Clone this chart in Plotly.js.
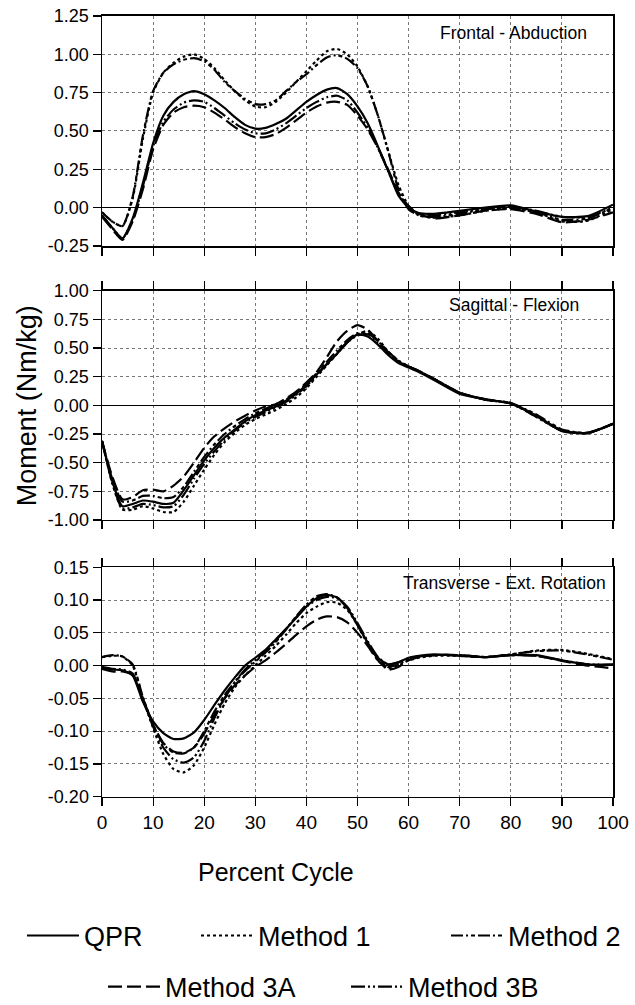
<!DOCTYPE html>
<html><head><meta charset="utf-8">
<script src="https://cdn.plot.ly/plotly-3.0.1.min.js"></script>
<style>html,body{margin:0;padding:0;background:#fff}</style>
</head><body>
<div id="chart" style="width:635px;height:1005px"></div>
<script>
// ---------- data ----------
const percentCycle = [0,2,4,6,8,10,12,14,16,18,20,22,24,26,28,30,32,34,36,38,40,42,44,46,48,50,52,54,56,58,60,62,65,70,75,80,85,90,95,100];
const seriesNames = ['QPR','Method 1','Method 2','Method 3A','Method 3B'];
const panelNames = ['Frontal - Abduction','Sagittal - Flexion','Transverse - Ext. Rotation'];

// Frontal - Abduction
const frontalQPR = [-0.05,-0.13,-0.20,-0.07,0.16,0.42,0.60,0.69,0.74,0.76,0.74,0.70,0.65,0.59,0.54,0.515,0.52,0.545,0.58,0.635,0.69,0.735,0.77,0.78,0.74,0.66,0.55,0.40,0.24,0.08,0.00,-0.035,-0.04,-0.02,0.00,0.015,-0.025,-0.06,-0.055,0.02];
const frontalM1  = [-0.03,-0.09,-0.12,0.06,0.45,0.75,0.88,0.945,0.985,1.00,0.97,0.91,0.83,0.76,0.70,0.66,0.655,0.69,0.75,0.82,0.89,0.96,1.02,1.035,1.00,0.92,0.79,0.60,0.37,0.15,0.01,-0.05,-0.065,-0.05,-0.02,-0.005,-0.03,-0.09,-0.085,-0.01];
const frontalM2  = [-0.03,-0.09,-0.12,0.07,0.47,0.76,0.88,0.935,0.965,0.975,0.955,0.90,0.82,0.76,0.71,0.675,0.675,0.70,0.76,0.82,0.87,0.93,0.98,0.995,0.97,0.91,0.79,0.60,0.37,0.12,-0.01,-0.05,-0.06,-0.04,-0.01,0.00,-0.03,-0.08,-0.07,0.00];
const frontalM3A = [-0.06,-0.14,-0.21,-0.09,0.12,0.38,0.54,0.62,0.655,0.665,0.655,0.62,0.575,0.525,0.485,0.46,0.46,0.48,0.52,0.57,0.62,0.66,0.685,0.69,0.67,0.60,0.51,0.39,0.25,0.10,0.01,-0.04,-0.07,-0.05,-0.02,-0.01,-0.04,-0.095,-0.08,-0.03];
const frontalM3B = [-0.05,-0.13,-0.20,-0.08,0.14,0.40,0.56,0.64,0.685,0.70,0.69,0.65,0.60,0.55,0.51,0.485,0.485,0.51,0.55,0.60,0.65,0.69,0.72,0.73,0.70,0.62,0.52,0.39,0.24,0.09,0.00,-0.04,-0.05,-0.03,-0.01,0.005,-0.02,-0.06,-0.06,0.00];

// Sagittal - Flexion
const sagittalQPR = [-0.31,-0.66,-0.88,-0.86,-0.83,-0.84,-0.86,-0.85,-0.74,-0.61,-0.48,-0.37,-0.28,-0.21,-0.14,-0.085,-0.045,-0.01,0.04,0.10,0.18,0.27,0.36,0.45,0.55,0.62,0.60,0.53,0.44,0.37,0.33,0.29,0.22,0.10,0.055,0.015,-0.09,-0.225,-0.24,-0.16];
const sagittalM1  = [-0.31,-0.68,-0.91,-0.91,-0.88,-0.90,-0.93,-0.93,-0.84,-0.70,-0.56,-0.43,-0.32,-0.24,-0.17,-0.12,-0.08,-0.04,0.01,0.07,0.15,0.25,0.35,0.45,0.55,0.62,0.65,0.58,0.47,0.39,0.34,0.30,0.23,0.11,0.05,0.02,-0.10,-0.22,-0.24,-0.16];
const sagittalM2  = [-0.31,-0.64,-0.84,-0.83,-0.79,-0.79,-0.81,-0.80,-0.71,-0.58,-0.45,-0.34,-0.25,-0.18,-0.12,-0.07,-0.03,0.01,0.05,0.11,0.19,0.28,0.38,0.48,0.57,0.63,0.63,0.56,0.47,0.39,0.34,0.30,0.23,0.11,0.05,0.02,-0.08,-0.21,-0.24,-0.16];
const sagittalM3A = [-0.31,-0.62,-0.82,-0.80,-0.74,-0.735,-0.75,-0.70,-0.62,-0.50,-0.37,-0.27,-0.20,-0.14,-0.09,-0.045,-0.01,0.01,0.06,0.12,0.20,0.29,0.42,0.56,0.65,0.70,0.66,0.56,0.46,0.38,0.34,0.30,0.23,0.11,0.05,0.02,-0.09,-0.22,-0.24,-0.16];
const sagittalM3B = [-0.31,-0.67,-0.90,-0.89,-0.86,-0.87,-0.89,-0.88,-0.78,-0.64,-0.51,-0.40,-0.30,-0.22,-0.15,-0.10,-0.06,-0.02,0.03,0.09,0.17,0.26,0.36,0.46,0.55,0.61,0.62,0.55,0.46,0.38,0.34,0.30,0.23,0.11,0.05,0.015,-0.10,-0.22,-0.245,-0.16];

// Transverse - Ext. Rotation
const transverseQPR = [-0.003,-0.006,-0.007,-0.015,-0.055,-0.085,-0.103,-0.112,-0.111,-0.102,-0.083,-0.06,-0.038,-0.018,0.000,0.012,0.024,0.04,0.056,0.073,0.09,0.103,0.108,0.104,0.088,0.062,0.035,0.012,0.002,0.005,0.012,0.015,0.017,0.015,0.013,0.016,0.016,0.008,0.002,0.002];
const transverseM1  = [0.013,0.015,0.014,0.000,-0.05,-0.095,-0.135,-0.158,-0.163,-0.152,-0.125,-0.09,-0.058,-0.033,-0.015,0.000,0.015,0.03,0.047,0.065,0.08,0.09,0.097,0.096,0.085,0.062,0.033,0.008,-0.004,0.000,0.008,0.012,0.015,0.015,0.013,0.017,0.023,0.024,0.018,0.010];
const transverseM2  = [0.013,0.016,0.014,0.002,-0.048,-0.09,-0.12,-0.133,-0.134,-0.125,-0.10,-0.07,-0.045,-0.025,-0.008,0.006,0.02,0.036,0.055,0.075,0.093,0.106,0.109,0.104,0.088,0.062,0.034,0.01,-0.002,0.002,0.01,0.014,0.016,0.016,0.013,0.017,0.022,0.023,0.017,0.009];
const transverseM3A = [-0.005,-0.009,-0.009,-0.015,-0.05,-0.09,-0.118,-0.131,-0.133,-0.125,-0.104,-0.075,-0.05,-0.03,-0.015,-0.002,0.008,0.02,0.033,0.047,0.06,0.07,0.075,0.074,0.066,0.05,0.03,0.008,-0.006,-0.002,0.008,0.013,0.016,0.016,0.013,0.016,0.015,0.007,0.000,-0.004];
const transverseM3B = [-0.002,-0.005,-0.006,-0.012,-0.052,-0.093,-0.125,-0.143,-0.148,-0.14,-0.115,-0.08,-0.05,-0.025,-0.006,0.008,0.022,0.038,0.056,0.074,0.09,0.10,0.105,0.103,0.09,0.065,0.037,0.013,0.002,0.005,0.011,0.014,0.016,0.016,0.013,0.016,0.015,0.008,0.002,0.001];

// ticks
const xTickVals = [0,10,20,30,40,50,60,70,80,90,100];
const xTickText = ['0','10','20','30','40','50','60','70','80','90','100'];
const frontalTickVals = [-0.25,0,0.25,0.5,0.75,1.0,1.25];
const frontalTickText = ['-0.25','0.00','0.25','0.50','0.75','1.00','1.25'];
const sagittalTickVals = [-1,-0.75,-0.5,-0.25,0,0.25,0.5,0.75,1.0];
const sagittalTickText = ['-1.00','-0.75','-0.50','-0.25','0.00','0.25','0.50','0.75','1.00'];
const transverseTickVals = [-0.2,-0.15,-0.1,-0.05,0,0.05,0.1,0.15];
const transverseTickText = ['-0.20','-0.15','-0.10','-0.05','0.00','0.05','0.10','0.15'];

// ---------- styles ----------
const FONT = 'Liberation Sans, Arial, sans-serif';
const dashes = ['solid','3px,3px','12px,3px,2px,3px,4px,3px','14px,5px','14px,3px,2px,3px,2px,3px'];
const legendIds = ['legend','legend2','legend3','legend4','legend5'];
const legendPos = [[-0.1566,0.0687],[0.184,0.0687],[0.6732,0.0687],[0.002,0.0179],[0.4775,0.0179]];
const panels = [
  [frontalQPR, frontalM1, frontalM2, frontalM3A, frontalM3B],
  [sagittalQPR, sagittalM1, sagittalM2, sagittalM3A, sagittalM3B],
  [transverseQPR, transverseM1, transverseM2, transverseM3A, transverseM3B]
];

const traces = [];
panels.forEach((series, p) => {
  series.forEach((vals, m) => {
    traces.push({
      x: percentCycle, y: vals,
      xaxis: 'x' + (p + 1), yaxis: 'y' + (p + 1),
      type: 'scatter', mode: 'lines',
      name: seriesNames[m], legendgroup: seriesNames[m],
      legend: legendIds[m],
      showlegend: p === 0,
      line: {color: '#000', width: 2.2, dash: dashes[m], shape: 'spline', smoothing: 0.6},
      hoverinfo: 'skip'
    });
  });
});

const domains = [[0.7552, 0.9841], [0.4826, 0.7107], [0.2073, 0.4355]];
function xAxis(p) {
  return {
    domain: [0, 1], anchor: 'y' + p, range: [0, 100],
    tickmode: 'array', tickvals: xTickVals, ticktext: xTickText,
    showticklabels: p === 3,
    tickfont: {family: FONT, size: 19, color: '#000'},
    ticks: 'outside', ticklen: 8, tickwidth: 1.2, tickcolor: '#000',
    showline: true, linecolor: '#000', linewidth: 1.5,
    mirror: p === 1 ? true : 'ticks',
    showgrid: true, gridcolor: '#777', griddash: 'dot', gridwidth: 1,
    zeroline: false, automargin: false, fixedrange: true
  };
}
function yAxis(p, range, vals, text) {
  return {
    domain: domains[p - 1], anchor: 'x' + p, range: range,
    tickmode: 'array', tickvals: vals, ticktext: text,
    tickfont: {family: FONT, size: 18, color: '#000'},
    ticks: 'outside', ticklen: 8, tickwidth: 1.2, tickcolor: '#000',
    showline: true, linecolor: '#000', linewidth: 1.5, mirror: true,
    showgrid: true, gridcolor: '#777', griddash: 'dot', gridwidth: 1,
    zeroline: true, zerolinecolor: '#000', zerolinewidth: 1,
    automargin: false, fixedrange: true
  };
}

const layout = {
  width: 635, height: 1005,
  margin: {l: 102, r: 22, t: 0, b: 0, autoexpand: false},
  paper_bgcolor: '#fff', plot_bgcolor: '#fff',
  font: {family: FONT, color: '#000'},
  xaxis: xAxis(1), xaxis2: xAxis(2), xaxis3: xAxis(3),
  yaxis: yAxis(1, [-0.25, 1.25], frontalTickVals, frontalTickText),
  yaxis2: yAxis(2, [-1, 1], sagittalTickVals, sagittalTickText),
  yaxis3: yAxis(3, [-0.2, 0.15], transverseTickVals, transverseTickText),
  annotations: [
    {text: panelNames[0], xref: 'x domain', yref: 'y domain', x: 0.953, y: 0.926, xanchor: 'right', yanchor: 'middle', showarrow: false, font: {family: FONT, size: 17.5, color: '#000'}},
    {text: panelNames[1], xref: 'x2 domain', yref: 'y2 domain', x: 0.937, y: 0.939, xanchor: 'right', yanchor: 'middle', showarrow: false, font: {family: FONT, size: 17.5, color: '#000'}},
    {text: panelNames[2], xref: 'x3 domain', yref: 'y3 domain', x: 0.99, y: 0.93, xanchor: 'right', yanchor: 'middle', showarrow: false, font: {family: FONT, size: 17.5, color: '#000'}},
    {text: 'Moment (Nm/kg)', xref: 'paper', yref: 'paper', x: -0.147, y: 0.5967, xanchor: 'center', yanchor: 'middle', textangle: -90, showarrow: false, font: {family: FONT, size: 27, color: '#000'}},
    {text: 'Percent Cycle', xref: 'paper', yref: 'paper', x: 0.34, y: 0.1323, xanchor: 'center', yanchor: 'middle', showarrow: false, font: {family: FONT, size: 25, color: '#000'}}
  ],
  showlegend: true
};
legendIds.forEach((id, i) => {
  layout[id] = {orientation: 'h', x: legendPos[i][0], xanchor: 'left', y: legendPos[i][1], yanchor: 'middle',
    itemwidth: 52, font: {family: FONT, size: 27, color: '#000'}, bgcolor: 'rgba(0,0,0,0)', borderwidth: 0};
});

Plotly.newPlot('chart', traces, layout, {staticPlot: true, displayModeBar: false});
</script>
</body></html>
